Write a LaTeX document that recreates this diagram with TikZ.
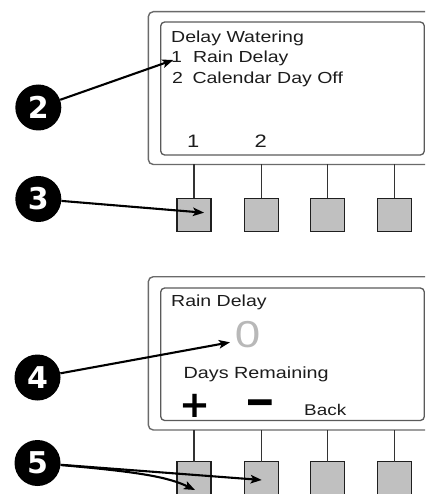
\documentclass[tikz,border=0pt]{standalone}
\usepackage{fontspec}
\usetikzlibrary{arrows.meta}
\newfontfamily\lcd[FakeStretch=1.22]{Liberation Sans}
\newfontfamily\symb{DejaVu Sans}
\definecolor{txt}{HTML}{1C1C1C}
\definecolor{boxline}{HTML}{6A6A6A}
\definecolor{btnfill}{HTML}{C0C0C0}
\definecolor{zerogray}{HTML}{B8B8B8}
\tikzset{
  outerbox/.style={draw=boxline, line width=1.4pt, rounded corners=5pt, inner sep=0pt, outer sep=0pt},
  innerbox/.style={draw=boxline!85!black, line width=1.3pt, rounded corners=4pt, inner sep=0pt, outer sep=0pt},
  button/.style={draw=black!88, fill=btnfill, line width=1.3pt, minimum width=34pt, minimum height=33.5pt, inner sep=0pt, outer sep=0pt},
  stem/.style={draw=black!80, line width=1.2pt},
  badge/.style={circle, fill=black, minimum size=46pt, inner sep=0pt, text=white, font=\symb\bfseries\fontsize{30}{30}\selectfont},
  lcdtext/.style={font=\lcd\fontsize{16}{19}\selectfont, text=txt, inner sep=0pt, anchor=base west},
  keylabel/.style={font=\lcd\fontsize{18}{20}\selectfont, text=txt, inner sep=0pt, anchor=center},
  arr/.style={draw=black, line width=2.1pt, -{Stealth[length=11pt, width=8.5pt, inset=2.5pt]}},
}
\begin{document}
\begin{tikzpicture}[x=1pt, y=-1pt]
\useasboundingbox (0,0) rectangle (425,494);
\clip (0,0) rectangle (425,494);

% ---------- top panel ----------
\node[outerbox, minimum width=291.7pt, minimum height=152.8pt] (p1) at (294.15,88.1) {};
\node[innerbox, minimum width=263.6pt, minimum height=133pt] (i1) at (292.5,88.5) {};
\node[lcdtext] (t1) at (171,42.7) {Delay Watering};
\node[lcdtext] (t2) at (171,62.7) {1\hspace{11pt}Rain Delay};
\node[lcdtext] (t3) at (172,83.3) {2\hspace{9.5pt}Calendar Day Off};
\node[keylabel] (k1) at (193.3,141.6) {1};
\node[keylabel] (k2) at (260.7,141.5) {2};

\node[button] (a1) at (194,215) {};
\node[button] (a2) at (261.7,215) {};
\node[button] (a3) at (327.8,215) {};
\node[button] (a4) at (394.5,215) {};
\foreach \b in {a1,a2,a3,a4} \draw[stem] (\b.north) -- (\b.north |- p1.south);

% ---------- bottom panel ----------
\node[outerbox, minimum width=291.7pt, minimum height=153.3pt] (p2) at (294.15,353.35) {};
\node[innerbox, minimum width=263.6pt, minimum height=132.5pt] (i2) at (292.5,354.25) {};
\node[lcdtext] (r1) at (171,306.7) {Rain Delay};
\node[font=\lcd\fontsize{37.5}{40}\selectfont, text=zerogray, inner sep=0pt, anchor=center] (zero) at (247.5,335) {0};
\node[lcdtext, font=\lcd\fontsize{16.2}{19}\selectfont] (days) at (183.5,378.3) {Days Remaining};
\node[font=\symb\bfseries\fontsize{37}{37}\selectfont, text=black, inner sep=0pt, anchor=center] (plus) at (194.7,405.8) {+};
\node[font=\symb\bfseries\fontsize{36}{36}\selectfont, text=black, inner sep=0pt, anchor=base] (minus) at (260.8,418) {\scalebox{1.05}[1.4]{−}};
\node[lcdtext, font=\lcd\fontsize{15.5}{18}\selectfont] (back) at (304,415.7) {Back};

\node[button] (b1) at (194,478.5) {};
\node[button] (b2) at (261.7,478.5) {};
\node[button] (b3) at (327.8,478.5) {};
\node[button] (b4) at (394.5,478.5) {};
\foreach \b in {b1,b2,b3,b4} \draw[stem] (\b.north) -- (\b.north |- p2.south);

% ---------- badges and arrows ----------
\node[badge] (c2) at (38.3,107.5) {2};
\node[badge] (c3) at (38.3,199) {3};
\node[badge] (c4) at (37.5,377.5) {4};
\node[badge] (c5) at (37.5,463) {5};

\coordinate (e2) at (173.3,60);
\coordinate (e3) at (204,212.7);
\coordinate (e4) at (230,342.3);
\coordinate (e5a) at (261.7,480);
\coordinate (e5b) at (195,490);

\draw[arr] (c2) -- (e2);
\draw[arr] (c3) -- (e3);
\draw[arr] (c4) -- (e4);
\draw[arr] (c5) -- (e5a);
\draw[arr] (c5) .. controls (140,472) and (168,477) .. (e5b);
\end{tikzpicture}
\end{document}
